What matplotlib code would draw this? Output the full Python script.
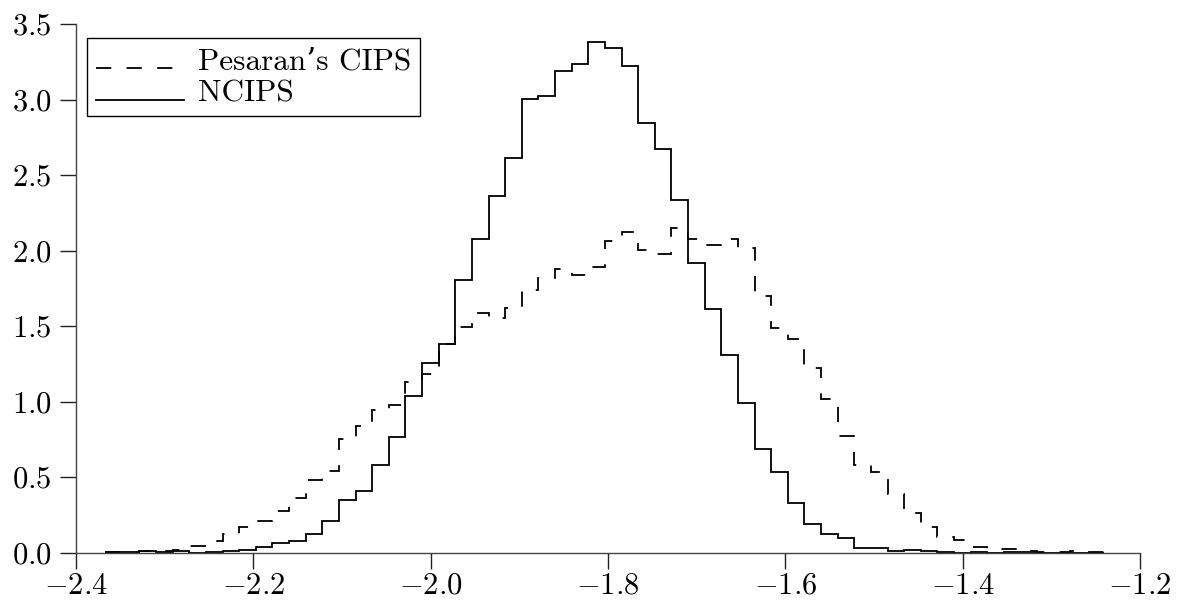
import numpy as np
import matplotlib
matplotlib.use("Agg")
import matplotlib.pyplot as plt
from matplotlib.legend_handler import HandlerLine2D
from matplotlib.lines import Line2D

# ---- data (density histograms) ----
bin_start = -2.3659
bin_width = 0.01875

ncips = [0.004, 0.002, 0.008, 0.004, 0.010, 0.001, 0.004, 0.008, 0.020, 0.040,
         0.063, 0.080, 0.123, 0.210, 0.346, 0.410, 0.583, 0.763, 1.037, 1.257,
         1.382, 1.805, 2.079, 2.360, 2.616, 3.004, 3.022, 3.186, 3.237, 3.379,
         3.340, 3.219, 2.842, 2.671, 2.336, 1.919, 1.612, 1.307, 0.993, 0.686,
         0.533, 0.329, 0.189, 0.123, 0.099, 0.033, 0.028, 0.013, 0.018, 0.009,
         0.004, 0.001, 0.002, 0.001, 0.007, 0.002, 0.001, 0.000, 0.001, 0.000]

cips = [0.004, 0.006, 0.012, 0.010, 0.018, 0.046, 0.075, 0.123, 0.167, 0.208,
        0.276, 0.360, 0.478, 0.539, 0.752, 0.840, 0.943, 0.980, 1.130, 1.180,
        1.380, 1.495, 1.586, 1.553, 1.618, 1.737, 1.816, 1.875, 1.838, 1.893,
        2.061, 2.123, 2.002, 1.980, 2.151, 2.079, 2.040, 2.079, 2.018, 1.700,
        1.490, 1.415, 1.224, 1.015, 0.774, 0.580, 0.533, 0.390, 0.260, 0.171,
        0.105, 0.083, 0.035, 0.024, 0.026, 0.008, 0.007, 0.006, 0.008, 0.005]

labels = ["Pesaran\u2019s CIPS", "NCIPS"]
xticks = [-2.4, -2.2, -2.0, -1.8, -1.6, -1.4, -1.2]
yticks = [0.0, 0.5, 1.0, 1.5, 2.0, 2.5, 3.0, 3.5]

# ---- style ----
plt.rcParams['font.family'] = ['cmr10', 'DejaVu Serif']
plt.rcParams['mathtext.fontset'] = 'cm'
plt.rcParams['axes.formatter.use_mathtext'] = True
plt.rcParams['lines.scale_dashes'] = False

fig = plt.figure(figsize=(11.83, 6.01), dpi=100)
ax = fig.add_axes([76 / 1183, 48.3 / 601, (1140 - 76) / 1183, 528.7 / 601])

edges = bin_start + bin_width * np.arange(len(ncips) + 1)

dash = (0, (11, 11))
ax.stairs(cips, edges, color='black', linewidth=1.3, linestyle=dash)
ax.stairs(ncips, edges, color='black', linewidth=1.3)

ax.set_xlim(-2.4, -1.2)
ax.set_ylim(0, 3.5)
ax.set_xticks(xticks)
ax.set_yticks(yticks)
fmt = matplotlib.ticker.FuncFormatter(lambda v, p: r"$%.1f$" % v)
ax.xaxis.set_major_formatter(fmt)
ax.yaxis.set_major_formatter(fmt)

for s in ['top', 'right']:
    ax.spines[s].set_visible(False)
for s in ['left', 'bottom']:
    ax.spines[s].set_color('#444444')
    ax.spines[s].set_linewidth(1.0)
ax.tick_params(direction='out', length=11.5, width=1.0, colors='#222222',
               labelsize=22, pad=6, labelcolor='black')
ax.tick_params(axis='x', pad=2.5)


class BaselineHandler(HandlerLine2D):
    def create_artists(self, legend, orig_handle, xdescent, ydescent, width,
                       height, fontsize, trans):
        arts = super().create_artists(legend, orig_handle, xdescent, ydescent,
                                      width, height, fontsize, trans)
        for a in arts:
            y = np.asarray(a.get_ydata(), dtype=float)
            a.set_ydata(np.zeros_like(y) + 0.03 * fontsize)
        return arts


lh1 = Line2D([], [], color='black', linewidth=1.3, linestyle=dash)
lh2 = Line2D([], [], color='black', linewidth=1.3)
leg = ax.legend([lh1, lh2], labels, loc='upper left',
                bbox_to_anchor=(86.7 / 1183, 1 - 38 / 601),
                bbox_transform=fig.transFigure, borderaxespad=0,
                fontsize=22.5, handlelength=2.8, handletextpad=0.45,
                borderpad=0.3, labelspacing=0.12, fancybox=False,
                framealpha=1, edgecolor='black',
                handler_map={Line2D: BaselineHandler()})
leg.get_frame().set_linewidth(1.0)

fig.savefig('out.png', dpi=100)
